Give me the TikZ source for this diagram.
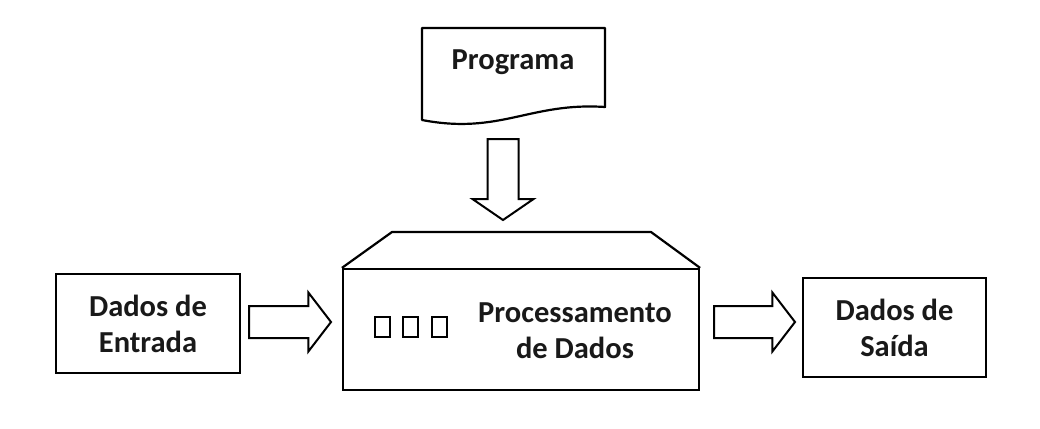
\documentclass[tikz,border=0pt]{standalone}
\usepackage{fontspec}
\setmainfont{Carlito}
\usetikzlibrary{shapes.arrows}
\begin{document}
\begin{tikzpicture}[x=1pt,y=-1pt,
  every node/.style={font=\bfseries\fontsize{30.5}{36}\selectfont, text=black!90},
  boxed/.style={draw, line width=2.2pt, inner sep=0pt, align=center},
  blockarrow/.style={single arrow, draw, line width=2pt, inner xsep=0pt, inner ysep=15pt,
     single arrow head indent=0pt, anchor=tail},
  led/.style={draw, line width=2pt, minimum width=15pt, minimum height=20pt, inner sep=0pt},
  lbl/.style={align=center, inner sep=0pt}]
\useasboundingbox (0,0) rectangle (1040,428);
% document
\node[lbl] (prog) at (513,62) {Programa};
\draw[line width=2.2pt, line join=round] (422,28) -- (605,28) -- (605,107)
  .. controls (530,102) and (500,135) .. (422,120) -- cycle;
% main processor box
\node[boxed, minimum width=356pt, minimum height=121pt] (proc) at (521,329.5) {};
\draw[line width=2.2pt, line join=round] (proc.north west) -- (392,232) -- (651,232) -- (proc.north east);
\node[lbl] (proclbl) at (575,331) {Processamento\\de Dados};
\node[led] (l1) at (382.5,327) {};
\node[led] (l2) at (410.5,327) {};
\node[led] (l3) at (439.5,327) {};
% input / output
\node[boxed, minimum width=184pt, minimum height=99pt] (in) at (148,323.5) {Dados de\\Entrada};
\node[boxed, minimum width=183pt, minimum height=99pt] (out) at (894.5,327.5) {Dados de\\Saída};
% block arrows
\node[blockarrow, minimum height=81pt, inner ysep=14.5pt, single arrow head extend=15pt,
  single arrow tip angle=111, rotate=-90] (a0) at (503,138) {};
\node[blockarrow, minimum height=82pt, single arrow head extend=13.5pt,
  single arrow tip angle=105] (a1) at (248,322) {};
\node[blockarrow, minimum height=81pt, single arrow head extend=13.5pt,
  single arrow tip angle=105] (a2) at (713,322) {};
\end{tikzpicture}
\end{document}
